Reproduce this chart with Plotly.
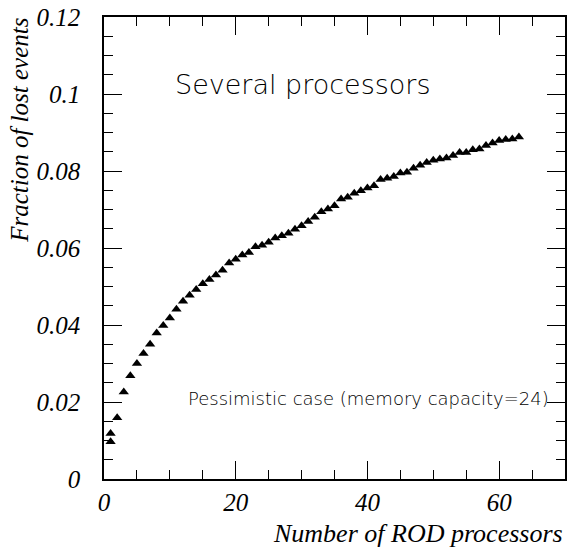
import plotly.graph_objects as go

# Data
n_processors = [1, 1, 2, 3, 4, 5, 6, 7, 8, 9, 10, 11, 12, 13, 14, 15, 16, 17, 18, 19, 20,
                21, 22, 23, 24, 25, 26, 27, 28, 29, 30, 31, 32, 33, 34, 35, 36, 37, 38, 39,
                40, 41, 42, 43, 44, 45, 46, 47, 48, 49, 50, 51, 52, 53, 54, 55, 56, 57, 58,
                59, 60, 61, 62, 63]
lost_fraction = [0.0097, 0.0118, 0.0159, 0.0226, 0.0268, 0.0300, 0.0326, 0.0350, 0.0379, 0.0399,
                 0.0418, 0.0441, 0.0462, 0.0477, 0.0492, 0.0507, 0.0518, 0.0530, 0.0542, 0.0561,
                 0.0571, 0.0582, 0.0588, 0.0603, 0.0607, 0.0615, 0.0626, 0.0632, 0.0638, 0.0649,
                 0.0658, 0.0669, 0.0680, 0.0694, 0.0701, 0.0710, 0.0727, 0.0732, 0.0742, 0.0749,
                 0.0756, 0.0762, 0.0778, 0.0781, 0.0786, 0.0795, 0.0797, 0.0807, 0.0815, 0.0822,
                 0.0828, 0.0831, 0.0834, 0.0840, 0.0848, 0.0848, 0.0855, 0.0857, 0.0866, 0.0873,
                 0.0879, 0.0882, 0.0883, 0.0888]

x_tickvals = [0, 20, 40, 60]
x_ticktext = ["0", "20", "40", "60"]
y_tickvals = [0, 0.02, 0.04, 0.06, 0.08, 0.10, 0.12]
y_ticktext = ["0", "0.02", "0.04", "0.06", "0.08", "0.1", "0.12"]

title_text = "Several processors"
case_text = "Pessimistic case (memory capacity=24)"
x_title = "Number of ROD processors"
y_title = "Fraction of lost events"

serif = "Liberation Serif, Times New Roman, serif"
thin = "DejaVu Sans ExtraLight, DejaVu Sans Light, DejaVu Sans, sans-serif"

fig = go.Figure()
fig.add_trace(go.Scatter(
    x=n_processors, y=lost_fraction, mode="markers",
    marker=dict(symbol="triangle-up", size=9, color="black"),
    showlegend=False,
))

axis_common = dict(
    showline=True, linecolor="black", linewidth=1.5, mirror="allticks",
    ticks="inside", tickcolor="black", tickwidth=1, ticklen=18,
    showgrid=False, zeroline=False,
    tickfont=dict(family=serif, size=25, color="black", style="italic"),
)

fig.update_xaxes(
    range=[0, 70], tickvals=x_tickvals, ticktext=x_ticktext,
    minor=dict(dtick=5, tick0=0, ticks="inside", ticklen=9, tickcolor="black", showgrid=False),
    ticklabelstandoff=0,
    **axis_common,
)
fig.update_yaxes(
    range=[0, 0.12], tickvals=y_tickvals, ticktext=y_ticktext,
    minor=dict(dtick=0.005, tick0=0, ticks="inside", ticklen=9, tickcolor="black", showgrid=False),
    ticklabelstandoff=17,
    **axis_common,
)

fig.add_annotation(
    x=30.2, y=0.1024, xref="x", yref="y", text=title_text, showarrow=False,
    font=dict(family=thin, size=27, color="black", weight=200),
    xanchor="center", yanchor="middle",
)
fig.add_annotation(
    x=12.4, y=0.021, xref="x", yref="y", text=case_text, showarrow=False,
    font=dict(family=thin, size=18, color="black", weight=200),
    xanchor="left", yanchor="middle",
)
fig.add_annotation(
    x=1.0, y=-0.117, xref="paper", yref="paper", text=x_title, showarrow=False,
    font=dict(family=serif, size=26, color="black", style="italic"),
    xanchor="right", yanchor="middle",
)
fig.add_annotation(
    x=-0.184, y=0.754, xref="paper", yref="paper", text=y_title, showarrow=False,
    textangle=-90,
    font=dict(family=serif, size=25, color="black", style="italic"),
    xanchor="center", yanchor="middle",
)

fig.update_layout(
    width=571, height=549,
    margin=dict(l=104, r=4, t=16, b=70),
    paper_bgcolor="white", plot_bgcolor="white",
)

fig.write_html(
    "out.html",
    config={"displayModeBar": False},
    post_script="document.body.style.margin='0';document.body.style.overflow='hidden';",
)
